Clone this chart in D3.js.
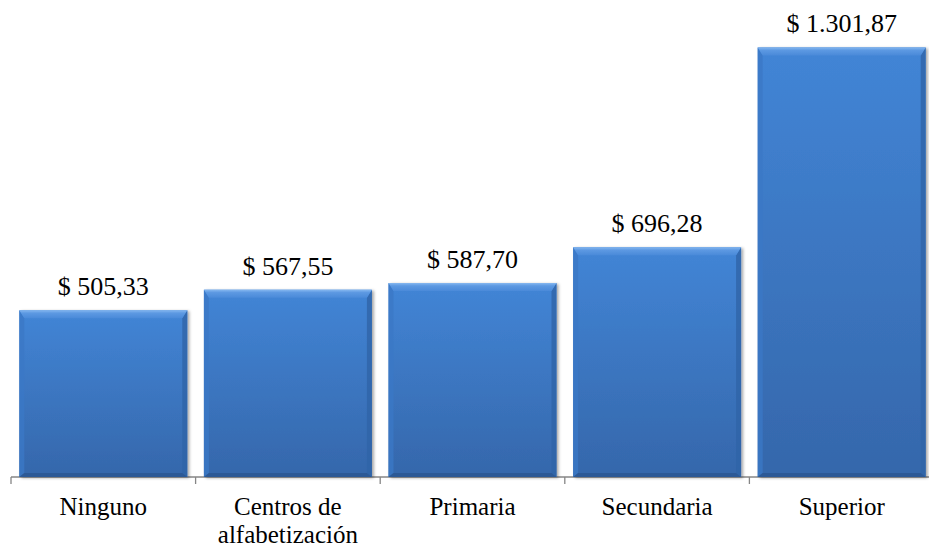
<!DOCTYPE html>
<html><head><meta charset="utf-8">
<script src="https://cdn.jsdelivr.net/npm/d3@7"></script>
<style>body{margin:0;background:#fff}svg{display:block}</style>
</head><body>
<script>
const categories = ["Ninguno", "Centros de\nalfabetización", "Primaria", "Secundaria", "Superior"];
const values = [505.33, 567.55, 587.70, 696.28, 1301.87];
const valueLabels = ["$ 505,33", "$ 567,55", "$ 587,70", "$ 696,28", "$ 1.301,87"];

const W = 929, H = 549;
const FONT = "'Liberation Serif','Times New Roman',Times,serif";
const svg = d3.select("body").append("svg").attr("width", W).attr("height", H);
const defs = svg.append("defs");
const g1 = defs.append("linearGradient").attr("id","face").attr("x1",0).attr("y1",0).attr("x2",0).attr("y2",1);
g1.append("stop").attr("offset","0%").attr("stop-color","#4285d6");
g1.append("stop").attr("offset","100%").attr("stop-color","#3567ab");
const g2 = defs.append("linearGradient").attr("id","topb").attr("x1",0).attr("y1",0).attr("x2",0).attr("y2",1);
g2.append("stop").attr("offset","0%").attr("stop-color","#86b8f0");
g2.append("stop").attr("offset","35%").attr("stop-color","#5d99e2");
g2.append("stop").attr("offset","100%").attr("stop-color","#4a8ad9");
const f = defs.append("filter").attr("id","sh").attr("x","-5%").attr("y","-5%").attr("width","115%").attr("height","115%");
f.append("feDropShadow").attr("dx",2).attr("dy",1).attr("stdDeviation",1.5).attr("flood-color","#000").attr("flood-opacity",0.35);

const x = d3.scaleBand().domain(categories).range([11, 934]).paddingInner(0.09).paddingOuter(0.045);
const y = d3.scaleLinear().domain([0, 1400]).range([477, 15]);

// axis
const axisG = svg.append("g").attr("transform","translate(0,477)");
axisG.append("line").attr("x1",11).attr("x2",934).attr("stroke","#868686").attr("stroke-width",1.3);
const ticks = d3.range(categories.length + 1).map(i => 11 + i * (923 / categories.length));
axisG.selectAll("line.t").data(ticks).join("line").attr("class","t")
  .attr("x1",d=>d).attr("x2",d=>d).attr("y1",0).attr("y2",7).attr("stroke","#868686").attr("stroke-width",1.3);

const bars = svg.append("g").selectAll("g").data(values).join("g");
const bt = 8, bs = 5, bb = 4;
bars.each(function(v,i){
  const g = d3.select(this);
  const x0 = x(categories[i]), w = x.bandwidth(), y0 = y(v), y1 = y(0);
  const x1 = x0 + w;
  g.append("rect").attr("x",x0).attr("y",y0).attr("width",w).attr("height",y1-y0).attr("fill","url(#face)").attr("filter","url(#sh)");
  g.append("polygon").attr("points",`${x0},${y0} ${x0+bs},${y0+bt} ${x0+bs},${y1-bb} ${x0},${y1}`).attr("fill","#3b78c6").attr("opacity",0.8);
  g.append("polygon").attr("points",`${x1},${y0} ${x1-bs},${y0+bt} ${x1-bs},${y1-bb} ${x1},${y1}`).attr("fill","#3064a8").attr("opacity",0.8);
  g.append("polygon").attr("points",`${x0},${y1} ${x0+bs},${y1-bb} ${x1-bs},${y1-bb} ${x1},${y1}`).attr("fill","#2b5893").attr("opacity",0.9);
  g.append("polygon").attr("points",`${x0},${y0} ${x1},${y0} ${x1-bs},${y0+bt} ${x0+bs},${y0+bt}`).attr("fill","url(#topb)");
  g.append("text").attr("x",x0+w/2).attr("y",y0-15).attr("text-anchor","middle")
    .attr("font-family",FONT).attr("font-size",26).attr("fill","#000")
    .text(valueLabels[i]);
});

// category labels
const cl = svg.append("g");
categories.forEach((c,i)=>{
  c.split("\n").forEach((line,j)=>{
    cl.append("text").attr("text-anchor","middle")
      .attr("font-family",FONT).attr("font-size",25).attr("fill","#000")
      .attr("x",x(c)+x.bandwidth()/2).attr("y",515 + j*28).text(line);
  });
});
</script>
</body></html>
